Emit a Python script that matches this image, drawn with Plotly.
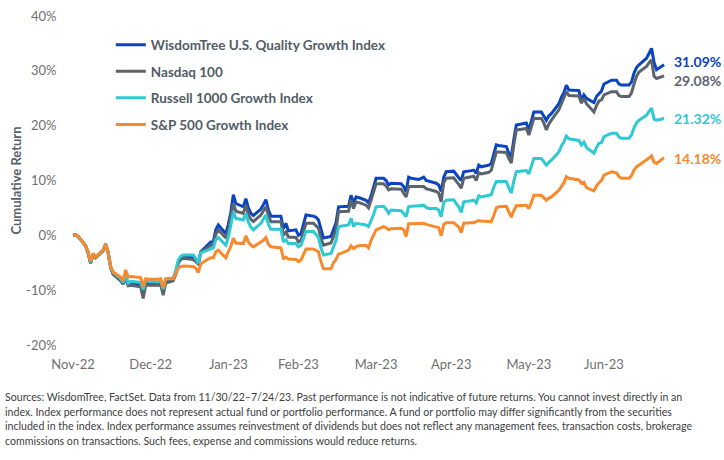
import plotly.graph_objects as go

dates = [
    "2022-11-30", "2022-12-01", "2022-12-02", "2022-12-05", "2022-12-06", "2022-12-07", "2022-12-08", "2022-12-09",
    "2022-12-12", "2022-12-13", "2022-12-14", "2022-12-15", "2022-12-16", "2022-12-19", "2022-12-20", "2022-12-21",
    "2022-12-22", "2022-12-23", "2022-12-27", "2022-12-28", "2022-12-29", "2022-12-30", "2023-01-03", "2023-01-04",
    "2023-01-05", "2023-01-06", "2023-01-09", "2023-01-10", "2023-01-11", "2023-01-12", "2023-01-13", "2023-01-17",
    "2023-01-18", "2023-01-19", "2023-01-20", "2023-01-23", "2023-01-24", "2023-01-25", "2023-01-26", "2023-01-27",
    "2023-01-30", "2023-01-31", "2023-02-01", "2023-02-02", "2023-02-03", "2023-02-06", "2023-02-07", "2023-02-08",
    "2023-02-09", "2023-02-10", "2023-02-13", "2023-02-14", "2023-02-15", "2023-02-16", "2023-02-17", "2023-02-21",
    "2023-02-22", "2023-02-23", "2023-02-24", "2023-02-27", "2023-02-28", "2023-03-01", "2023-03-02", "2023-03-03",
    "2023-03-06", "2023-03-07", "2023-03-08", "2023-03-09", "2023-03-10", "2023-03-13", "2023-03-14", "2023-03-15",
    "2023-03-16", "2023-03-17", "2023-03-20", "2023-03-21", "2023-03-22", "2023-03-23", "2023-03-24", "2023-03-27",
    "2023-03-28", "2023-03-29", "2023-03-30", "2023-03-31", "2023-04-03", "2023-04-04", "2023-04-05", "2023-04-06",
    "2023-04-10", "2023-04-11", "2023-04-12", "2023-04-13", "2023-04-14", "2023-04-17", "2023-04-18", "2023-04-19",
    "2023-04-20", "2023-04-21", "2023-04-24", "2023-04-25", "2023-04-26", "2023-04-27", "2023-04-28", "2023-05-01",
    "2023-05-02", "2023-05-03", "2023-05-04", "2023-05-05", "2023-05-08", "2023-05-09", "2023-05-10", "2023-05-11",
    "2023-05-12", "2023-05-15", "2023-05-16", "2023-05-17", "2023-05-18", "2023-05-19", "2023-05-22", "2023-05-23",
    "2023-05-24", "2023-05-25", "2023-05-26", "2023-05-30", "2023-05-31", "2023-06-01", "2023-06-02", "2023-06-05",
    "2023-06-06", "2023-06-07", "2023-06-08", "2023-06-09", "2023-06-12", "2023-06-13", "2023-06-14", "2023-06-15",
    "2023-06-16", "2023-06-20", "2023-06-21", "2023-06-22", "2023-06-23", "2023-06-26", "2023-06-27", "2023-06-28",
    "2023-06-29", "2023-06-30", "2023-07-03", "2023-07-05", "2023-07-06", "2023-07-07", "2023-07-10", "2023-07-11",
    "2023-07-12", "2023-07-13", "2023-07-14", "2023-07-17", "2023-07-18", "2023-07-19", "2023-07-20", "2023-07-21",
    "2023-07-24",
]

wisdomtree_quality_growth = [
    0.0, 0.1, -0.2, -1.9, -3.2, -5.0, -3.5, -4.1,
    -2.8, -1.6, -3.1, -5.8, -7.0, -8.1, -8.8, -7.6,
    -9.0, -8.7, -8.9, -10.3, -8.6, -8.7, -8.8, -8.7,
    -10.2, -8.3, -8.0, -7.0, -5.0, -4.3, -4.0, -4.1,
    -4.6, -5.2, -3.0, -1.5, -1.2, -1.2, 1.0, 1.9,
    0.3, 2.0, 4.2, 7.4, 5.8, 5.2, 6.7, 5.0,
    4.0, 3.6, 4.8, 5.6, 6.5, 4.6, 3.5, 3.5,
    1.2, 2.2, 0.8, 1.0, 0.0, 0.3, 1.8, 3.7,
    3.5, 3.3, 2.8, 1.0, -0.5, -0.2, 1.2, 2.3,
    5.2, 5.2, 5.3, 7.3, 5.8, 7.0, 6.9, 6.4,
    5.9, 7.2, 8.6, 10.4, 10.4, 10.0, 9.2, 9.5,
    9.4, 8.9, 8.0, 10.6, 10.4, 10.2, 10.4, 10.6,
    10.0, 9.9, 9.5, 9.2, 8.0, 10.6, 11.6, 11.7,
    11.0, 10.5, 10.0, 11.6, 11.8, 11.9, 11.3, 12.8,
    12.5, 12.8, 13.1, 15.0, 16.5, 16.4, 16.2, 15.0,
    14.3, 17.5, 20.1, 20.5, 19.2, 20.8, 22.5, 22.5,
    21.8, 21.0, 21.8, 22.2, 24.0, 25.2, 26.0, 27.4,
    26.5, 26.4, 24.6, 25.6, 25.0, 24.2, 25.3, 25.9,
    26.3, 27.6, 28.3, 28.3, 27.6, 27.4, 27.4, 28.0,
    29.6, 30.6, 31.1, 32.3, 33.2, 34.1, 31.5, 30.2,
    31.09,
]

nasdaq_100 = [
    0.0, 0.1, -0.2, -1.9, -3.3, -5.1, -3.5, -4.1,
    -2.8, -1.6, -3.2, -5.9, -7.1, -8.3, -8.9, -7.8,
    -9.2, -9.1, -9.4, -11.5, -9.1, -9.1, -9.2, -9.1,
    -10.9, -8.7, -8.3, -7.1, -5.0, -4.4, -4.2, -4.4,
    -4.8, -5.2, -3.1, -2.0, -1.8, -1.8, 0.2, 1.0,
    -0.5, 1.0, 3.2, 5.8, 4.4, 4.0, 5.5, 3.8,
    2.9, 2.5, 3.7, 4.4, 5.2, 3.6, 2.5, 2.5,
    0.0, 0.6, -0.3, -0.4, -1.2, -0.9, 0.6, 2.2,
    2.2, 1.8, 1.3, -0.6, -1.8, -1.4, -0.1, 1.0,
    4.3, 4.3, 4.4, 6.4, 4.9, 6.1, 6.0, 5.5,
    5.0, 6.4, 7.8, 9.4, 9.4, 9.0, 8.3, 8.5,
    8.4, 7.8, 7.0, 8.9, 8.9, 8.9, 8.9, 8.9,
    8.5, 8.4, 8.0, 7.7, 6.1, 9.6, 10.4, 10.5,
    10.0, 9.3, 8.6, 10.4, 10.7, 10.8, 10.0, 11.4,
    11.2, 11.5, 11.9, 13.8, 15.2, 15.2, 15.1, 14.0,
    13.2, 16.5, 19.2, 19.5, 18.3, 19.8, 21.3, 21.3,
    20.5, 19.2, 20.3, 21.0, 22.9, 24.0, 25.0, 26.2,
    25.5, 25.4, 24.1, 25.0, 24.0, 22.5, 23.6, 24.5,
    24.7, 25.6, 26.2, 26.2, 25.5, 25.3, 25.3, 26.0,
    27.6, 29.0, 29.8, 30.8, 31.5, 32.0, 29.0, 28.6,
    29.08,
]

russell_1000_growth = [
    0.0, 0.1, -0.2, -1.8, -3.1, -4.9, -3.4, -4.0,
    -2.7, -1.6, -3.1, -5.7, -6.8, -7.9, -8.6, -7.2,
    -8.7, -8.4, -8.6, -9.9, -8.3, -8.4, -8.5, -8.4,
    -9.8, -8.0, -7.8, -6.4, -4.5, -3.8, -3.6, -3.6,
    -4.2, -5.1, -3.2, -2.6, -2.4, -2.3, -0.8, -0.4,
    -1.8, -0.3, 1.8, 4.3, 3.1, 2.8, 4.0, 2.4,
    1.5, 1.0, 2.2, 2.9, 3.7, 2.0, 1.1, 1.1,
    -1.2, -0.8, -1.5, -1.5, -2.1, -1.8, -0.6, 0.7,
    0.7, 0.2, -0.4, -2.3, -3.6, -3.3, -2.1, -0.9,
    1.6, 1.7, 1.9, 3.1, 1.6, 2.2, 2.1, 1.9,
    1.6, 2.6, 3.8, 5.2, 5.3, 4.8, 4.0, 4.6,
    4.5, 4.0, 3.4, 5.2, 5.3, 5.4, 5.5, 5.5,
    5.1, 4.9, 4.9, 4.6, 3.4, 6.0, 6.4, 6.5,
    5.8, 5.2, 4.2, 6.1, 6.3, 6.4, 5.9, 7.2,
    7.0, 7.2, 7.4, 8.8, 9.8, 9.8, 9.8, 8.7,
    7.7, 9.9, 11.6, 11.8, 11.2, 12.6, 14.0, 14.0,
    13.5, 12.8, 13.3, 13.7, 15.2, 16.3, 17.0, 18.1,
    17.6, 17.3, 16.5, 17.0, 16.0, 15.0, 16.0, 16.8,
    16.9, 18.0, 18.6, 18.6, 17.9, 17.7, 17.7, 18.3,
    19.6, 20.5, 21.0, 21.9, 22.6, 23.2, 21.2, 21.0,
    21.32,
]

sp500_growth = [
    0.0, 0.1, -0.2, -1.8, -3.0, -4.8, -3.3, -4.0,
    -2.7, -1.6, -3.1, -5.6, -6.7, -7.6, -8.2, -6.3,
    -7.6, -7.5, -7.7, -9.3, -7.9, -8.0, -8.0, -7.9,
    -9.6, -7.9, -7.9, -7.0, -6.0, -5.7, -5.6, -5.7,
    -6.0, -6.8, -5.2, -4.3, -4.1, -4.1, -3.0, -2.7,
    -4.1, -3.0, -2.0, -0.5, -1.4, -1.5, -0.1, -1.2,
    -1.8, -2.1, -1.2, -0.9, -0.4, -1.6, -2.1, -2.3,
    -4.2, -4.0, -4.3, -4.4, -4.8, -4.5, -3.5, -2.5,
    -2.5, -2.8, -3.0, -4.8, -6.1, -6.1, -5.0, -4.4,
    -3.4, -3.3, -2.7, -1.9, -2.4, -2.1, -1.9, -1.8,
    -2.3, -0.9, 0.1, 1.0, 1.6, 1.4, 1.0, 1.2,
    1.3, 1.0, -0.2, 2.1, 2.1, 2.2, 2.2, 2.2,
    2.0, 1.9, 1.6, 1.4, -0.1, 2.0, 2.3, 2.3,
    1.9, 1.5, 0.5, 2.2, 2.3, 2.3, 2.5, 2.7,
    2.6, 2.6, 2.5, 3.6, 5.0, 5.2, 5.3, 4.3,
    3.3, 4.5, 5.4, 5.5, 4.9, 6.0, 7.3, 7.3,
    6.9, 6.4, 6.8, 7.0, 8.2, 9.0, 9.6, 10.7,
    10.4, 10.1, 9.5, 9.7, 8.7, 8.1, 9.0, 9.6,
    10.0, 11.0, 11.6, 11.4, 10.7, 10.4, 10.4, 10.9,
    11.9, 12.5, 12.8, 13.7, 14.1, 14.5, 13.3, 13.1,
    14.18,
]

series_names = [
    "WisdomTree U.S. Quality Growth Index",
    "Nasdaq 100",
    "Russell 1000 Growth Index",
    "S&P 500 Growth Index",
]
series_values = [wisdomtree_quality_growth, nasdaq_100, russell_1000_growth, sp500_growth]
end_labels = ["31.09%", "29.08%", "21.32%", "14.18%"]
colors = ["#0a44c0", "#5b646d", "#2ec9d2", "#f78a2c"]
label_yshift = [3, -5, 0, -1]

month_tick_dates = ["2022-11-30", "2022-12-31", "2023-01-31", "2023-02-28",
                    "2023-03-31", "2023-04-30", "2023-05-31", "2023-06-30"]
month_tick_labels = ["Nov-22", "Dec-22", "Jan-23", "Feb-23", "Mar-23", "Apr-23", "May-23", "Jun-23"]
y_tick_values = [-20, -10, 0, 10, 20, 30, 40]
y_tick_labels = ["-20%", "-10%", "0%", "10%", "20%", "30%", "40%"]

footnote_lines = [
    "Sources: WisdomTree, FactSet. Data from 11/30/22–7/24/23. Past performance is not indicative of future returns. You cannot invest directly in an",
    "index. Index performance does not represent actual fund or portfolio performance. A fund or portfolio may differ significantly from the securities",
    "included in the index. Index performance assumes reinvestment of dividends but does not reflect any management fees, transaction costs, brokerage",
    "commissions on transactions. Such fees, expense and commissions would reduce returns.",
]

FONT = "Lato, 'Open Sans', sans-serif"

fig = go.Figure()
for i, (name, vals, col) in enumerate(zip(series_names, series_values, colors)):
    fig.add_trace(go.Scatter(
        x=dates, y=vals, mode="lines", name=name,
        line=dict(color=col, width=3),
        legendgroup=f"g{i}",
    ))
    fig.add_annotation(
        x=dates[-1], y=vals[-1], text=f"<b>{end_labels[i]}</b>",
        xref="x", yref="y", xanchor="left", yanchor="middle",
        xshift=8, yshift=label_yshift[i], showarrow=False,
        font=dict(family=FONT, size=14, color=col),
    )

# footnote lines, ~14.6 px apart below the plot area
for k, line in enumerate(footnote_lines):
    fig.add_annotation(
        xref="paper", yref="paper", x=-0.0967, y=-0.1581 - k * 0.0444,
        xanchor="left", yanchor="middle", align="left", showarrow=False,
        text=line, font=dict(family=FONT, size=10.6, color="#404040"),
    )

fig.add_annotation(
    xref="paper", yref="paper", x=-0.077, y=0.5,
    xanchor="center", yanchor="middle", textangle=-90, showarrow=False,
    text="<b>Cumulative Return</b>",
    font=dict(family=FONT, size=13, color="#555f69"),
)

fig.update_layout(
    width=724, height=460,
    margin=dict(l=62, r=52, t=16, b=115, autoexpand=False),
    paper_bgcolor="white", plot_bgcolor="white",
    font=dict(family=FONT),
    showlegend=True,
    legend=dict(
        x=0.08, y=0.959, xanchor="left", yanchor="top",
        bgcolor="rgba(0,0,0,0)", borderwidth=0,
        font=dict(family=FONT, size=13.5, color="#525c66", weight="bold"),
        tracegroupgap=6, traceorder="grouped",
    ),
    xaxis=dict(
        type="date", automargin=False,
        range=["2022-11-25 14:00", "2023-07-27 04:00"],
        tickvals=month_tick_dates, ticktext=month_tick_labels,
        showgrid=False, zeroline=False, showline=False,
        ticks="outside", ticklen=7, tickcolor="rgba(0,0,0,0)",
        tickfont=dict(family=FONT, size=13, color="#6f6f6f"),
    ),
    yaxis=dict(
        range=[-20, 40], automargin=False,
        tickvals=y_tick_values, ticktext=y_tick_labels,
        showgrid=False, zeroline=False, showline=False,
        ticks="outside", ticklen=2, tickcolor="rgba(0,0,0,0)",
        tickfont=dict(family=FONT, size=13, color="#6f6f6f"),
    ),
)

fig.write_html(
    "out.html",
    config={"displayModeBar": False},
    post_script="document.body.style.margin='0';",
)
